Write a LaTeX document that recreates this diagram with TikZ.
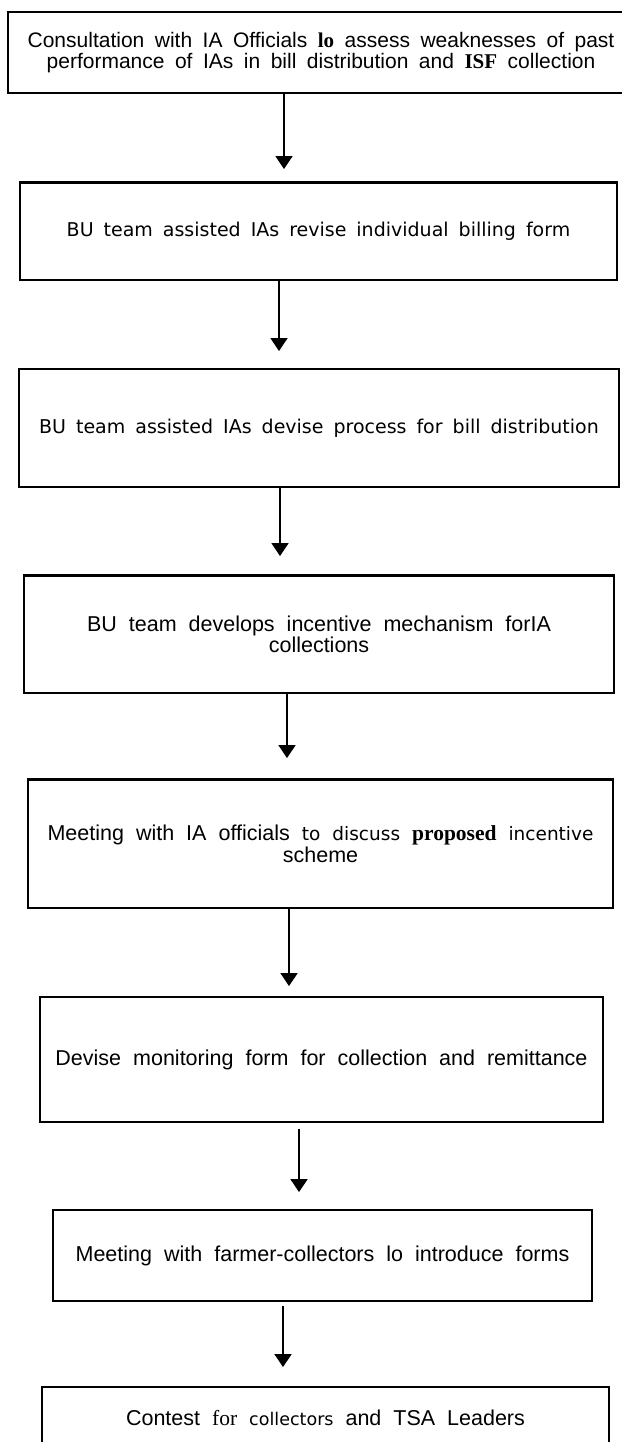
\documentclass[tikz,border=0pt]{standalone}
\usepackage{fontspec}
\setmainfont{Liberation Sans}
\newfontfamily\rmserif{Liberation Serif}
\newfontfamily\scanfont{DejaVu Sans}
\usetikzlibrary{arrows.meta}
% fixed inter-word space inside the step boxes
\newcommand\wordgap[1]{\spaceskip=#1\relax}
\begin{document}
\begin{tikzpicture}[x=1pt,y=-1pt,
  box/.style={draw, line width=1.8pt, inner sep=0pt, align=center,
    font={\fontsize{21.5}{21.5}\selectfont\wordgap{12pt}}},
  topbox/.style={box, font={\fontsize{21}{20.5}\selectfont\wordgap{10.5pt}}},
  scanbox/.style={box, font={\fontsize{19}{21.5}\selectfont\scanfont\wordgap{10pt}}},
  flow/.style={line width=1.5pt, -{Triangle[width=17pt,length=13pt]}},
  heavytop/.style={line width=3pt}]
\useasboundingbox (0,0) rectangle (621,1442);

% process steps, top to bottom
\node[topbox, minimum width=626pt, minimum height=81pt] (b1) at (321,52.5)
  {Consultation with IA Officials {\rmserif\bfseries lo} assess weaknesses of past\\
   performance of IAs in bill distribution and {\rmserif\bfseries ISF} collection};
\node[scanbox, minimum width=597pt, minimum height=97pt] (b2) at (318.5,231.5)
  {BU team assisted IAs revise individual billing form};
\node[scanbox, minimum width=600pt, minimum height=118pt] (b3) at (319,428)
  {BU team assisted IAs devise process for bill distribution};
\node[box, minimum width=590pt, minimum height=117pt] (b4) at (319,634.5)
  {BU team develops incentive mechanism forIA\\collections};
\node[box, minimum width=585pt, minimum height=128pt] (b5) at (320.5,844)
  {Meeting with IA officials {\scanfont\fontsize{18.5}{21.5}\selectfont to discuss}
   {\rmserif\bfseries proposed} {\scanfont\fontsize{18.5}{21.5}\selectfont incentive}\\scheme};
\node[box, minimum width=563pt, minimum height=125pt] (b6) at (321.5,1059.5)
  {Devise monitoring form for collection and remittance};
\node[box, minimum width=539pt, minimum height=91pt] (b7) at (322.5,1255.5)
  {Meeting with farmer-collectors lo introduce forms};
\node[box, minimum width=567pt, minimum height=62pt] (b8) at (325.5,1418)
  {Contest {\rmserif for} {\scanfont\fontsize{17.5}{21.5}\selectfont collectors} and TSA Leaders};

% heavier top rules on some boxes
\draw[heavytop] (b2.north west) -- (b2.north east);
\draw[heavytop] (b4.north west) -- (b4.north east);
\draw[heavytop] (b5.north west) -- (b5.north east);

% columns of the connecting arrows
\coordinate (a1) at (284,0);
\coordinate (a2) at (279,0);
\coordinate (a3) at (280,0);
\coordinate (a4) at (287,0);
\coordinate (a5) at (289,0);
\coordinate (a6) at (299,0);
\coordinate (a7) at (283,0);

\draw[flow, shorten >=13pt] (b1.south -| a1) -- (b2.north -| a1);
\draw[flow, shorten >=17pt] (b2.south -| a2) -- (b3.north -| a2);
\draw[flow, shorten >=19pt] (b3.south -| a3) -- (b4.north -| a3);
\draw[flow, shorten >=21pt] (b4.south -| a4) -- (b5.north -| a4);
\draw[flow, shorten >=10pt] (b5.south -| a5) -- (b6.north -| a5);
\draw[flow, shorten <=6pt, shorten >=17pt] (b6.south -| a6) -- (b7.north -| a6);
\draw[flow, shorten <=4pt, shorten >=19pt] (b7.south -| a7) -- (b8.north -| a7);
\end{tikzpicture}
\end{document}
